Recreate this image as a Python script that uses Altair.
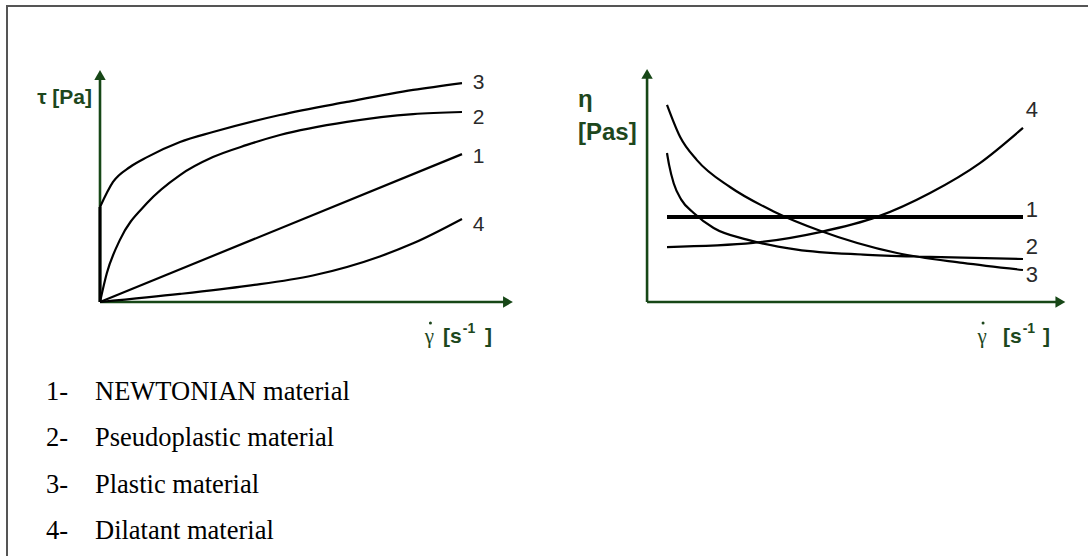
import altair as alt
import pandas as pd

# ---- Flow curves: shear stress tau against shear rate (left panel) ----
tau_newtonian_x = [0, 10]
tau_newtonian_y = [0, 6.43]
tau_pseudo_x = [0, 0.19, 0.55, 1.30, 2.21, 3.12, 4.06, 4.97, 6.82, 8.65, 10]
tau_pseudo_y = [0, 1.26, 2.70, 4.30, 5.52, 6.30, 6.83, 7.26, 7.83, 8.17, 8.26]
tau_plastic_x = [0, 0.36, 0.83, 1.30, 2.21, 3.12, 4.97, 6.82, 8.65, 10]
tau_plastic_y = [4.13, 5.22, 5.87, 6.30, 6.96, 7.39, 8.13, 8.70, 9.22, 9.52]
tau_dilatant_x = [0, 2.21, 4.06, 5.88, 7.73, 8.65, 10]
tau_dilatant_y = [0, 0.35, 0.70, 1.15, 1.98, 2.55, 3.61]

# ---- Viscosity curves: eta against shear rate (right panel) ----
eta_newtonian_x = [0, 10]
eta_newtonian_y = [3.70, 3.70]
eta_pseudo_x = [0, 0.06, 0.19, 0.40, 0.75, 1.31, 2.25, 3.65, 5.51, 7.39, 10]
eta_pseudo_y = [6.48, 5.95, 5.15, 4.45, 3.87, 3.22, 2.71, 2.28, 2.06, 1.96, 1.87]
eta_plastic_x = [0, 0.37, 0.84, 1.77, 2.98, 4.30, 6.46, 8.31, 10]
eta_plastic_y = [8.57, 7.17, 6.17, 5.00, 3.95, 3.10, 2.13, 1.70, 1.39]
eta_dilatant_x = [0, 2.42, 4.30, 5.90, 7.39, 8.79, 10]
eta_dilatant_y = [2.39, 2.57, 3.04, 3.70, 4.74, 6.04, 7.57]

# curve numbers and where their tags sit at the right end of each curve
curve_ids = ["1", "2", "3", "4"]
tau_tag_y = [6.30, 8.00, 9.52, 3.35]
eta_tag_y = [4.00, 2.39, 1.17, 8.35]

legend_numbers = ["1-", "2-", "3-", "4-"]
legend_names = ["NEWTONIAN material", "Pseudoplastic material",
                "Plastic material", "Dilatant material"]

# axis extents (data units) for the arrowed axes of each panel
tau_axis = {"x0": 0.0, "x_end": 11.27, "y_end": 9.87}
eta_axis = {"x0": -0.56, "x_end": 11.05, "y_end": 9.92}

AXIS_GREEN = "#174717"
TEXT_GREEN = "#1d471d"
TAG_GREY = "#2a2a2a"
SANS = "Liberation Sans"
SERIF = "Liberation Serif"


def curves_frame(series):
    rows = []
    for cid, xs, ys, w in series:
        for i, (x, y) in enumerate(zip(xs, ys)):
            rows.append({"curve": cid, "x": x, "y": y, "i": i, "w": w})
    return pd.DataFrame(rows)


def text_layer(X, Y, t):
    return alt.Chart(pd.DataFrame([t])).mark_text(
        align=t.get("align", "left"), baseline="middle",
        font=t.get("font", SANS), fontSize=t["size"],
        fontWeight=t.get("weight", "bold"), color=t.get("color", TEXT_GREEN),
        dy=t.get("dy", 0), dx=t.get("dx", 0)
    ).encode(x=X("x"), y=Y("y"), text="label:N")


def panel(curves, tags_y, axis, xscale, yscale, extra_layers, titles):
    X = lambda f: alt.X(f, type="quantitative", scale=xscale, axis=None)
    Y = lambda f: alt.Y(f, type="quantitative", scale=yscale, axis=None)

    axes_df = pd.DataFrame([
        {"x": axis["x0"], "y": 0, "x2": axis["x0"], "y2": axis["y_end"] - 0.1},
        {"x": axis["x0"], "y": 0, "x2": axis["x_end"] - 0.1, "y2": 0},
    ])
    axes = alt.Chart(axes_df).mark_rule(color=AXIS_GREEN, strokeWidth=2.6).encode(
        x=X("x"), y=Y("y"), x2="x2", y2="y2")
    up = alt.Chart(pd.DataFrame([{"x": axis["x0"], "y": axis["y_end"]}])).mark_point(
        shape="triangle-up", filled=True, size=130, color=AXIS_GREEN, opacity=1
    ).encode(x=X("x"), y=Y("y"))
    right = alt.Chart(pd.DataFrame([{"x": axis["x_end"], "y": 0}])).mark_point(
        shape="triangle-right", filled=True, size=130, color=AXIS_GREEN, opacity=1
    ).encode(x=X("x"), y=Y("y"))

    lines = alt.Chart(curves).mark_line(interpolate="monotone", color="black").encode(
        x=X("x"), y=Y("y"), detail="curve:N", order="i:Q",
        strokeWidth=alt.StrokeWidth("w:Q", scale=None, legend=None))

    tag_df = pd.DataFrame({"curve": curve_ids, "y": tags_y,
                           "x": [titles["tag_x"]] * 4})
    tags = alt.Chart(tag_df).mark_text(
        align="left", baseline="middle", font=SANS, fontSize=titles["tag_size"],
        color=TAG_GREY
    ).encode(x=X("x"), y=Y("y"), text="curve:N")

    title_layers = [text_layer(X, Y, t) for t in titles["texts"]]

    # dot over the gamma of the shear-rate label
    g = titles["gamma"]
    dot = alt.Chart(pd.DataFrame([g])).mark_circle(
        size=9, color=TEXT_GREEN, opacity=1, xOffset=1, yOffset=-14
    ).encode(x=X("x"), y=Y("y"))

    return alt.layer(axes, up, right, *extra_layers(X, Y), lines, tags,
                     *title_layers, dot)


yscale = alt.Scale(domain=[0, 10], range=[302, 72], nice=False, zero=False)
tau_xscale = alt.Scale(domain=[0, 10], range=[100, 462], nice=False, zero=False)
eta_xscale = alt.Scale(domain=[0, 10], range=[667, 1023], nice=False, zero=False)

tau_curves = curves_frame([
    ("1", tau_newtonian_x, tau_newtonian_y, 2.2),
    ("2", tau_pseudo_x, tau_pseudo_y, 2.2),
    ("3", tau_plastic_x, tau_plastic_y, 2.2),
    ("4", tau_dilatant_x, tau_dilatant_y, 2.2),
])
eta_curves = curves_frame([
    ("1", eta_newtonian_x, eta_newtonian_y, 4.0),
    ("2", eta_pseudo_x, eta_pseudo_y, 2.2),
    ("3", eta_plastic_x, eta_plastic_y, 2.2),
    ("4", eta_dilatant_x, eta_dilatant_y, 2.2),
])


def yield_step(X, Y):
    # plastic material: stress rises to the yield value before it flows
    df = pd.DataFrame([{"x": tau_plastic_x[0], "y": 0, "y2": tau_plastic_y[0]}])
    return [alt.Chart(df).mark_rule(color="black", strokeWidth=3).encode(
        x=X("x"), y=Y("y"), y2="y2")]


def nothing(X, Y):
    return []


def rate_label(gx, bx, sx, ex, y, size):
    # shear-rate symbol, then the unit [s^-1]
    return [
        {"label": "γ", "x": gx, "y": y, "align": "center", "size": size,
         "weight": "normal", "font": SERIF},
        {"label": "[s", "x": bx, "y": y, "align": "left", "size": size},
        {"label": "-1", "x": sx, "y": y, "align": "left", "size": 14,
         "dy": -8},
        {"label": "]", "x": ex, "y": y, "align": "right", "size": size},
    ]


tau_panel = panel(
    tau_curves, tau_tag_y, tau_axis, tau_xscale, yscale, yield_step,
    {"tag_x": 10.3, "tag_size": 21, "gamma": {"x": 9.10, "y": -1.52}, "texts": [
        {"label": "τ [Pa]", "x": -0.22, "y": 8.87, "align": "right", "size": 21},
        *rate_label(9.10, 9.475, 10.02, 10.83, -1.52, 21),
    ]})

eta_panel = panel(
    eta_curves, eta_tag_y, eta_axis, eta_xscale, yscale, nothing,
    {"tag_x": 10.08, "tag_size": 22, "gamma": {"x": 8.85, "y": -1.52}, "texts": [
        {"label": "η", "x": -2.5, "y": 8.78, "align": "left", "size": 24},
        {"label": "[Pas]", "x": -2.5, "y": 7.35, "align": "left", "size": 24},
        *rate_label(8.85, 9.44, 9.99, 10.76, -1.52, 21),
    ]})

legend_df = pd.DataFrame({"row": [1, 2, 3, 4], "num": legend_numbers, "name": legend_names})
row_y = alt.Y("row:O", scale=alt.Scale(range=[392, 531], padding=0), axis=None)
legend_nums = alt.Chart(legend_df).mark_text(
    align="left", baseline="middle", font=SERIF, fontSize=26.5, color="black"
).encode(x=alt.value(46), y=row_y, text="num:N")
legend_txt = alt.Chart(legend_df).mark_text(
    align="left", baseline="middle", font=SERIF, fontSize=26.5, color="black"
).encode(x=alt.value(95), y=row_y, text="name:N")
legend = alt.layer(legend_nums, legend_txt)

frame = alt.Chart(pd.DataFrame([{"k": 0}])).mark_rect(
    fill=None, stroke="#555555", strokeWidth=2
).encode(x=alt.value(7), y=alt.value(6), x2=alt.value(1100), y2=alt.value(600))

chart = alt.layer(frame, tau_panel, eta_panel, legend).resolve_scale(
    x="independent", y="independent"
).properties(
    width=1088, height=556, padding=0, autosize="none", background="white"
).configure_view(stroke=None)

chart.save("out.html", embed_options={"renderer": "svg", "actions": False})
